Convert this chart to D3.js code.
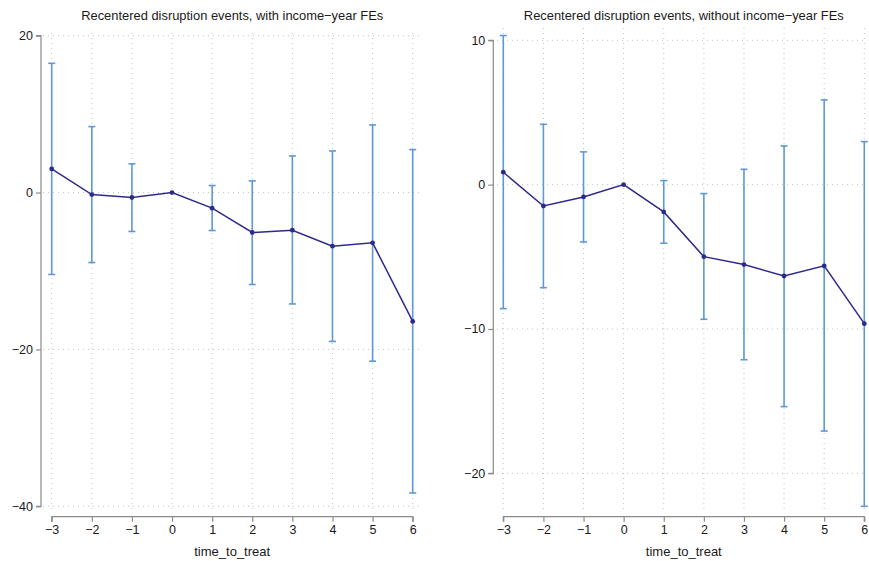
<!DOCTYPE html>
<html>
<head>
<meta charset="utf-8">
<script src="https://cdn.jsdelivr.net/npm/d3@7"></script>
<style>
  html, body { margin: 0; padding: 0; background: #ffffff; }
  svg { display: block; font-family: "Liberation Sans", Arial, Helvetica, sans-serif; }
</style>
</head>
<body>
<svg id="chart" width="869" height="561"></svg>
<script>
// Event-time periods
const timeToTreat = [-3, -2, -1, 0, 1, 2, 3, 4, 5, 6];

// Panel 1: with income-year fixed effects
const coefWith   = [3.02, -0.25, -0.63, 0, -1.99, -5.09, -4.80, -6.83, -6.41, -16.43];
const lowerWith  = [-10.44, -8.92, -4.96, 0, -4.84, -11.72, -14.20, -18.98, -21.50, -38.30];
const upperWith  = [16.48, 8.41, 3.66, 0, 0.90, 1.49, 4.67, 5.31, 8.62, 5.48];
const yTicksWith = [-40, -20, 0, 20];

// Panel 2: without income-year fixed effects
const coefWithout   = [0.86, -1.48, -0.85, 0, -1.89, -4.99, -5.54, -6.33, -5.63, -9.63];
const lowerWithout  = [-8.59, -7.14, -3.97, 0, -4.06, -9.33, -12.13, -15.38, -17.07, -22.29];
const upperWithout  = [10.33, 4.18, 2.27, 0, 0.28, -0.62, 1.06, 2.68, 5.87, 2.98];
const yTicksWithout = [-20, -10, 0, 10];

const titles = [
  "Recentered disruption events, with income\u2212year FEs",
  "Recentered disruption events, without income\u2212year FEs"
];
const xTitle = "time_to_treat";

const lineColor = "#2e2a8c";
const ciColor = "#5f98d4";
const axisColor = "#8a8a8a";
const gridColor = "#c4c4c4";

const fmt = v => (v < 0 ? "\u2212" + Math.abs(v) : String(v));

const svg = d3.select("#chart");

const panels = [
  {
    coef: coefWith, lo: lowerWith, hi: upperWith, yTicks: yTicksWith, title: titles[0],
    xRange: [51.7, 412.7], yDomain: [-40, 20], yRange: [506.3, 35.7],
    region: { x0: 43, x1: 420, y0: 33, y1: 512 }, yAxisX: 41
  },
  {
    coef: coefWithout, lo: lowerWithout, hi: upperWithout, yTicks: yTicksWithout, title: titles[1],
    xRange: [503.3, 864.3], yDomain: [-20, 10], yRange: [473.3, 40.3],
    region: { x0: 497, x1: 867, y0: 28, y1: 512 }, yAxisX: 493.3
  }
];

const xAxisY = 516.7;

panels.forEach(p => {
  const x = d3.scaleLinear().domain([-3, 6]).range(p.xRange);
  const y = d3.scaleLinear().domain(p.yDomain).range(p.yRange);
  const g = svg.append("g");

  // Grid lines (dotted)
  g.append("g").selectAll("line.vg").data(timeToTreat).join("line")
    .attr("x1", d => x(d)).attr("x2", d => x(d))
    .attr("y1", p.region.y0).attr("y2", p.region.y1)
    .attr("stroke", gridColor).attr("stroke-width", 1)
    .attr("stroke-dasharray", "1,4");
  g.append("g").selectAll("line.hg").data(p.yTicks).join("line")
    .attr("x1", p.region.x0).attr("x2", p.region.x1)
    .attr("y1", d => y(d)).attr("y2", d => y(d))
    .attr("stroke", gridColor).attr("stroke-width", 1)
    .attr("stroke-dasharray", "1,4");

  // Y axis
  const yAxis = d3.axisLeft(y).tickValues(p.yTicks).tickFormat(fmt).tickSize(5).tickPadding(3);
  const ya = g.append("g").attr("transform", `translate(${p.yAxisX},0)`).call(yAxis);
  // X axis
  const xAxis = d3.axisBottom(x).tickValues(timeToTreat).tickFormat(fmt).tickSize(5).tickPadding(3);
  const xa = g.append("g").attr("transform", `translate(0,${xAxisY})`).call(xAxis);

  [ya, xa].forEach(a => {
    a.select(".domain").attr("stroke", axisColor).attr("stroke-width", 1.2);
    a.selectAll(".tick line").attr("stroke", axisColor).attr("stroke-width", 1.2);
    a.selectAll(".tick text").attr("fill", "#1a1a1a").attr("font-size", 12.5)
      .style("font-family", '"Liberation Sans", Arial, sans-serif');
  });
  // Axis lines span only the tick range
  ya.select(".domain").attr("d", `M-5,${y(p.yTicks[p.yTicks.length - 1])}H0V${y(p.yTicks[0])}H-5`);
  xa.select(".domain").attr("d", `M${x(-3)},5V0H${x(6)}V5`);

  // Titles
  g.append("text")
    .attr("x", (p.xRange[0] + p.xRange[1]) / 2).attr("y", 19.5)
    .attr("text-anchor", "middle").attr("font-size", 12.9).attr("fill", "#1a1a1a")
    .text(p.title);
  g.append("text")
    .attr("x", (p.xRange[0] + p.xRange[1]) / 2).attr("y", 556)
    .attr("text-anchor", "middle").attr("font-size", 13).attr("fill", "#1a1a1a")
    .text(xTitle);

  // Confidence intervals with caps
  const idx = d3.range(timeToTreat.length).filter(i => p.hi[i] !== p.lo[i]);
  const ci = g.append("g").attr("stroke", ciColor).attr("stroke-width", 1.6).attr("fill", "none");
  ci.selectAll("line.bar").data(idx).join("line")
    .attr("x1", i => x(timeToTreat[i])).attr("x2", i => x(timeToTreat[i]))
    .attr("y1", i => y(p.hi[i])).attr("y2", i => y(p.lo[i]));
  ci.selectAll("line.capHi").data(idx).join("line")
    .attr("x1", i => x(timeToTreat[i]) - 3.5).attr("x2", i => x(timeToTreat[i]) + 3.5)
    .attr("y1", i => y(p.hi[i])).attr("y2", i => y(p.hi[i]));
  ci.selectAll("line.capLo").data(idx).join("line")
    .attr("x1", i => x(timeToTreat[i]) - 3.5).attr("x2", i => x(timeToTreat[i]) + 3.5)
    .attr("y1", i => y(p.lo[i])).attr("y2", i => y(p.lo[i]));

  // Point estimates connected by a line
  const line = d3.line().x((d, i) => x(timeToTreat[i])).y(d => y(d));
  g.append("path").datum(p.coef).attr("d", line)
    .attr("fill", "none").attr("stroke", lineColor).attr("stroke-width", 1.5);
  g.append("g").selectAll("circle").data(p.coef).join("circle")
    .attr("cx", (d, i) => x(timeToTreat[i])).attr("cy", d => y(d))
    .attr("r", 2.4).attr("fill", lineColor);
});
</script>
</body>
</html>
